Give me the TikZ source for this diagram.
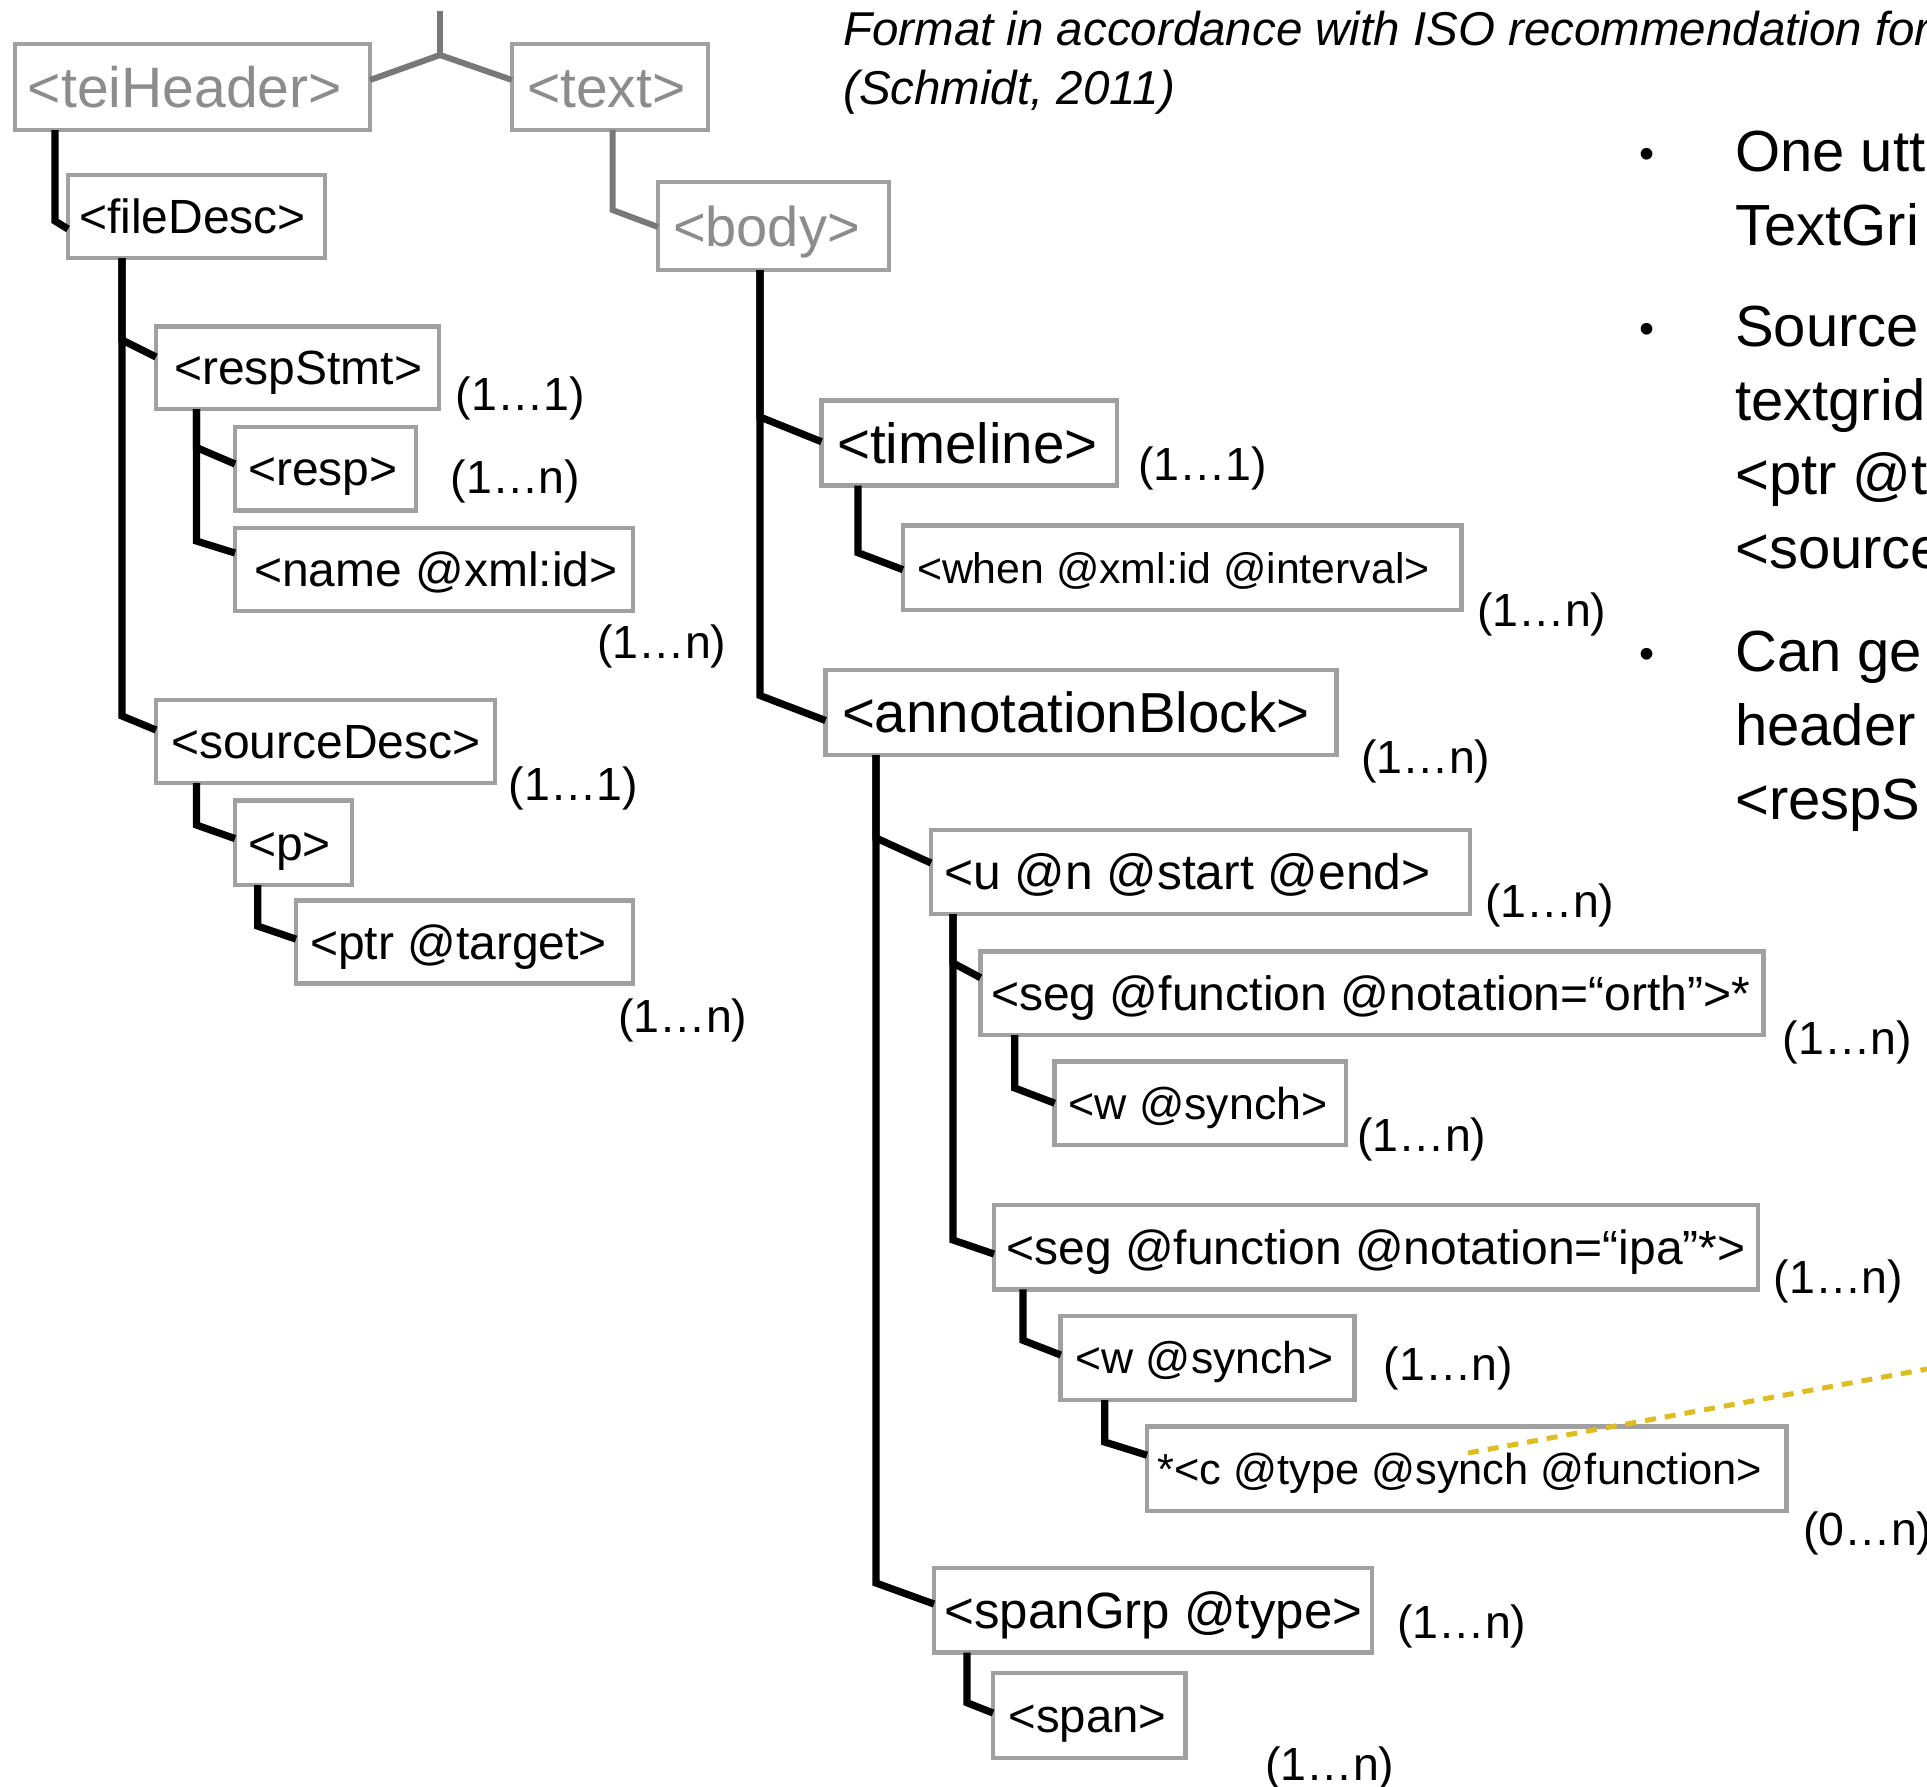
\documentclass[tikz,border=0pt]{standalone}
\usepackage{fontspec}
\setmainfont{Liberation Sans}
\definecolor{boxgray}{RGB}{160,160,160}
\definecolor{tgray}{RGB}{140,140,140}
\definecolor{lgray}{RGB}{120,120,120}
\definecolor{dashy}{RGB}{222,188,36}
\newcommand\fsz[1]{\fontsize{#1}{#1}\selectfont}
\newcommand\bt[3]{\makebox[#1][l]{\hspace*{#2}\rule{0pt}{0.716em}\smash{#3}}}
\begin{document}
\begin{tikzpicture}[x=1pt,y=-1pt,
  bx/.style={draw=boxgray,line width=4.5pt,fill=white,inner sep=0pt,outer sep=0pt,anchor=north west},
  conn/.style={line width=7.2pt,draw=black},
  gconn/.style={line width=6pt,draw=lgray},
  lbl/.style={font=\fsz{46.5},anchor=base west,inner sep=0pt},
  ttl/.style={font=\fsz{47.5}\itshape,anchor=base west,inner sep=0pt},
  btx/.style={font=\fsz{58},anchor=base west,inner sep=0pt},
  bul/.style={font=\fsz{43},anchor=base,inner sep=0pt},
  ydash/.style={draw=dashy,line width=5pt,dash pattern=on 11pt off 9pt}]
\useasboundingbox (0,0) rectangle (1927,1786);
\clip (0,0) rectangle (1927,1786);

% ---------- boxes ----------
\node[bx,minimum height=86pt,font=\fsz{57},text=tgray] (tei) at (15,44) {\bt{355pt}{13pt}{<teiHeader>}};
\node[bx,minimum height=86pt,font=\fsz{57},text=tgray] (txt) at (512,44) {\bt{196pt}{15pt}{<text>}};
\node[bx,minimum height=83pt,font=\fsz{48}] (fd) at (68,175) {\bt{257pt}{11pt}{<fileDesc>}};
\node[bx,minimum height=88pt,font=\fsz{56},text=tgray] (body) at (658,182) {\bt{231pt}{15pt}{<body>}};
\node[bx,minimum height=82.5pt,font=\fsz{48}] (rs) at (156,326.5) {\bt{283pt}{18pt}{<respStmt>}};
\node[bx,minimum height=83.5pt,font=\fsz{48}] (resp) at (235,427) {\bt{181pt}{13pt}{<resp>}};
\node[bx,minimum height=83pt,font=\fsz{48}] (name) at (235,528) {\bt{398pt}{19pt}{<name @xml:id>}};
\node[bx,minimum height=83pt,font=\fsz{48}] (sd) at (156,700) {\bt{339pt}{15pt}{<sourceDesc>}};
\node[bx,minimum height=84.5pt,font=\fsz{48}] (p) at (235,800.6) {\bt{117pt}{13pt}{<p>}};
\node[bx,minimum height=82.7pt,font=\fsz{48}] (ptr) at (296,900.6) {\bt{337pt}{14pt}{<ptr @target>}};
\node[bx,minimum height=85pt,font=\fsz{56.5}] (tl) at (821.5,400.7) {\bt{295.5pt}{15.5pt}{<timeline>}};
\node[bx,minimum height=84.3pt,font=\fsz{42.8}] (when) at (903,525.7) {\bt{558.7pt}{14pt}{<when @xml:id @interval>}};
\node[bx,minimum height=85pt,font=\fsz{56.4}] (ab) at (825.5,670) {\bt{511pt}{16.5pt}{<annotationBlock>}};
\node[bx,minimum height=84pt,font=\fsz{49.8}] (u) at (931,830) {\bt{539pt}{13pt}{<u @n @start @end>}};
\node[bx,minimum height=83.3pt,font=\fsz{48.1}] (so) at (980.5,951.7) {\bt{783pt}{10.5pt}{<seg @function @notation=“orth”>*}};
\node[bx,minimum height=83.3pt,font=\fsz{44.7}] (w1) at (1054.7,1061.7) {\bt{291.3pt}{13.7pt}{<w @synch>}};
\node[bx,minimum height=84.3pt,font=\fsz{48}] (si) at (994,1205) {\bt{764pt}{12.4pt}{<seg @function @notation=“ipa”*>}};
\node[bx,minimum height=84pt,font=\fsz{44.5}] (w2) at (1060.7,1316) {\bt{293.8pt}{14.7pt}{<w @synch>}};
\node[bx,minimum height=84.3pt,font=\fsz{43.4}] (c) at (1147,1426.7) {\bt{639.7pt}{10.3pt}{*<c @type @synch @function>}};
\node[bx,minimum height=84.7pt,font=\fsz{51}] (sg) at (934,1568) {\bt{438pt}{10.7pt}{<spanGrp @type>}};
\node[bx,minimum height=85pt,font=\fsz{47.3}] (span) at (993,1673) {\bt{192.7pt}{15.6pt}{<span>}};

% ---------- connectors ----------
\coordinate (root) at (440,11);
\coordinate (junc) at (440,55);
\draw[gconn] (root) -- (junc);
\draw[gconn] ([yshift=7pt]tei.east) -- (junc) -- ([yshift=7pt]txt.west);
\draw[gconn] ([xshift=100.5pt]txt.south west) -- ++(0,80) -- ([yshift=-45pt]body.north west);
\draw[conn] ([xshift=40pt]tei.south west) -- ++(0,91) -- ([yshift=-54pt]fd.north west);
\draw[conn] ([xshift=54pt]fd.south west) -- ++(0,82) -- ([yshift=-30.5pt]rs.north west);
\draw[conn] ([xshift=54pt]fd.south west) -- ++(0,458) -- ([yshift=-30pt]sd.north west);
\draw[conn] ([xshift=40.4pt]rs.south west) -- ++(0,38.5) -- ([yshift=-37pt]resp.north west);
\draw[conn] ([xshift=40.4pt]rs.south west) -- ++(0,132) -- ([yshift=-25pt]name.north west);
\draw[conn] ([xshift=40.4pt]sd.south west) -- ++(0,42) -- ([yshift=-38pt]p.north west);
\draw[conn] ([xshift=22.7pt]p.south west) -- ++(0,41) -- ([yshift=-38.5pt]ptr.north west);
\draw[conn] ([xshift=102pt]body.south west) -- ++(0,147) -- ([yshift=-41pt]tl.north west);
\draw[conn] ([xshift=102pt]body.south west) -- ++(0,425.5) -- ([yshift=-50.5pt]ab.north west);
\draw[conn] ([xshift=36.5pt]tl.south west) -- ++(0,67) -- ([yshift=-44pt]when.north west);
\draw[conn] ([xshift=50.5pt]ab.south west) -- ++(0,83) -- ([yshift=-33pt]u.north west);
\draw[conn] ([xshift=50.5pt]ab.south west) -- ++(0,828) -- ([yshift=-36pt]sg.north west);
\draw[conn] ([xshift=22pt]u.south west) -- ++(0,49) -- ([yshift=-26pt]so.north west);
\draw[conn] ([xshift=22pt]u.south west) -- ++(0,326) -- ([yshift=-49pt]si.north west);
\draw[conn] ([xshift=34.3pt]so.south west) -- ++(0,53) -- ([yshift=-41.5pt]w1.north west);
\draw[conn] ([xshift=29pt]si.south west) -- ++(0,51) -- ([yshift=-39pt]w2.north west);
\draw[conn] ([xshift=44pt]w2.south west) -- ++(0,42) -- ([yshift=-28.5pt]c.north west);
\draw[conn] ([xshift=33pt]sg.south west) -- ++(0,50) -- ([yshift=-40pt]span.north west);

% ---------- multiplicities ----------
\node[lbl] (lrs) at (455.6,410) {(1…1)};
\node[lbl] (lresp) at (450.5,493.6) {(1…n)};
\node[lbl] (lname) at (597,658.6) {(1…n)};
\node[lbl] (lsd) at (508.7,800) {(1…1)};
\node[lbl] (lptr) at (618,1032) {(1…n)};
\node[lbl] (ltl) at (1137.8,480) {(1…1)};
\node[lbl] (lwhen) at (1477,626) {(1…n)};
\node[lbl] (lab) at (1361,773) {(1…n)};
\node[lbl] (lu) at (1485,917) {(1…n)};
\node[lbl] (lso) at (1782.7,1054) {(1…n)};
\node[lbl] (lw1) at (1357,1151) {(1…n)};
\node[lbl] (lsi) at (1773.7,1293) {(1…n)};
\node[lbl] (lw2) at (1383.5,1380) {(1…n)};
\node[lbl] (lc) at (1803,1545) {(0…n)};
\node[lbl] (lsg) at (1397,1638) {(1…n)};
\node[lbl] (lspan) at (1265,1780) {(1…n)};

% ---------- dashed link ----------
\coordinate (dA) at (1468,1453);
\coordinate (dB) at (1927,1369);
\draw[ydash] (dA) -- (dB);

% ---------- title ----------
\node[ttl] (title1) at (843,45) {Format in accordance with ISO recommendation for};
\node[ttl] (title2) at (843,104) {(Schmidt, 2011)};

% ---------- bullets ----------
\node[bul] (b1) at (1647,168) {•};
\node[bul] (b2) at (1647,343) {•};
\node[bul] (b3) at (1647,668) {•};
\node[btx] (t1) at (1735,171) {One utt};
\node[btx] (t2) at (1735,245) {TextGri};
\node[btx] (t3) at (1735,346) {Source};
\node[btx] (t4) at (1735,420) {textgrid};
\node[btx] (t5) at (1735,494) {<ptr @t};
\node[btx] (t6) at (1735,568) {<source};
\node[btx] (t7) at (1735,671) {Can ge};
\node[btx] (t8) at (1735,745) {header};
\node[btx] (t9) at (1735,819) {<respS};
\end{tikzpicture}
\end{document}
